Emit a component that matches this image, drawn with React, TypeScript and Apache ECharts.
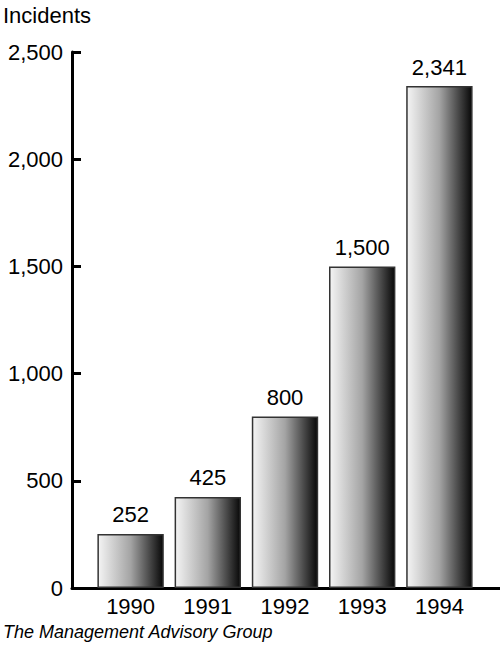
import React, { useEffect, useRef } from "react";
import * as echarts from "echarts";

const years = ["1990", "1991", "1992", "1993", "1994"];
const incidents = [252, 425, 800, 1500, 2341];
const yAxisTitle = "Incidents";
const sourceNote = "The Management Advisory Group";

const FONT = "Liberation Sans, Arial, Helvetica, sans-serif";
const fmt = (v: number) => v.toLocaleString("en-US");

export default function App() {
  const ref = useRef<HTMLDivElement>(null);
  useEffect(() => {
    if (!ref.current) return;
    const chart = echarts.init(ref.current, undefined, { renderer: "svg" });
    const gridTop = 52;
    const gridBottom = 59;
    const barGradient = new echarts.graphic.LinearGradient(0, 0, 1, 0, [
      { offset: 0, color: "#f4f4f4" },
      { offset: 0.5, color: "#a4a4a4" },
      { offset: 1, color: "#080808" },
    ]);
    chart.setOption({
      animation: false,
      backgroundColor: "#ffffff",
      textStyle: { fontFamily: FONT },
      grid: [
        { left: 72, right: 0, top: gridTop, bottom: gridBottom, containLabel: false },
        { left: 92, width: 386, top: gridTop, bottom: gridBottom, containLabel: false },
      ],
      xAxis: [
        {
          gridIndex: 0,
          type: "value",
          min: 0,
          max: 1,
          axisLine: { show: true, onZero: false, lineStyle: { color: "#000", width: 3 } },
          axisTick: { show: false },
          axisLabel: { show: false },
          splitLine: { show: false },
        },
        {
          gridIndex: 1,
          type: "category",
          data: years,
          axisLine: { show: false },
          axisTick: { show: false },
          axisLabel: { color: "#000", fontSize: 22, fontFamily: FONT, margin: 7 },
        },
      ],
      yAxis: [
        {
          gridIndex: 0,
          type: "value",
          min: 0,
          max: 2500,
          interval: 500,
          axisLine: { show: true, lineStyle: { color: "#000", width: 3 } },
          axisTick: { show: true, inside: true, length: 9, lineStyle: { color: "#000", width: 3 } },
          axisLabel: { color: "#000", fontSize: 22, fontFamily: FONT, margin: 9, formatter: (v: number) => fmt(v) },
          splitLine: { show: false },
        },
        {
          gridIndex: 1,
          type: "value",
          min: 0,
          max: 2500,
          interval: 500,
          show: false,
        },
      ],
      series: [
        {
          type: "bar",
          xAxisIndex: 1,
          yAxisIndex: 1,
          data: incidents,
          barCategoryGap: "14%",
          itemStyle: { color: barGradient, borderColor: "#333333", borderWidth: 1.5 },
          label: {
            show: true,
            position: "top",
            distance: 8,
            color: "#000",
            fontSize: 22,
            fontFamily: FONT,
            formatter: (p: any) => fmt(p.value),
          },
        },
      ],
      graphic: [
        {
          type: "text",
          left: 3,
          top: 4,
          style: { text: yAxisTitle, fill: "#000", font: `22px ${FONT}` },
        },
        {
          type: "text",
          left: 3,
          top: 623,
          style: { text: sourceNote, fill: "#000", font: `italic 18px ${FONT}` },
        },
      ],
    });
    return () => chart.dispose();
  }, []);
  return <div ref={ref} style={{ width: 500, height: 647, position: "absolute", left: 0, top: 0 }} />;
}
